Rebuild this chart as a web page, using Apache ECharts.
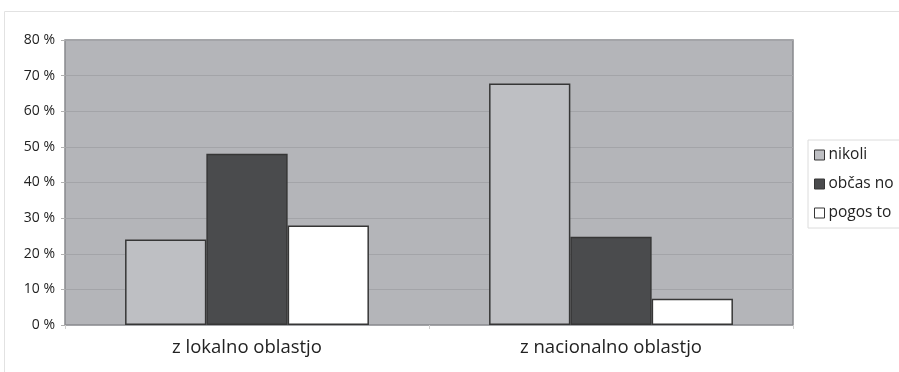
<!DOCTYPE html>
<html>
<head>
<meta charset="utf-8">
<script src="https://cdn.jsdelivr.net/npm/echarts@6/dist/echarts.min.js"></script>
<style>
  html, body {margin: 0; padding: 0; background: #fff;}
  #chart {width: 899px; height: 372px;}
</style>
</head>
<body>
<div id="chart"></div>
<script>
const categories = ['z lokalno oblastjo', 'z nacionalno oblastjo'];
const seriesNames = ['nikoli', 'občas no', 'pogos to'];
const nikoli = [24, 67.8];
const obcasno = [48.1, 24.8];
const pogosto = [27.9, 7.4];
const yTicks = [0, 10, 20, 30, 40, 50, 60, 70, 80];

const colors = ['#bebfc3', '#4a4b4d', '#ffffff'];
const font = '"Open Sans", "Noto Sans", sans-serif';

const myChart = echarts.init(document.getElementById('chart'));

const bar = (name, data, color) => ({
    name,
    type: 'bar',
    data,
    barGap: 0,
    barCategoryGap: '33%',
    itemStyle: {color, borderColor: '#363636', borderWidth: 1.5},
});

myChart.setOption({
    animation: false,
    textStyle: {fontFamily: font},
    graphic: [{
        type: 'rect',
        shape: {x: 4.5, y: 11.5, width: 910, height: 400},
        style: {fill: 'none', stroke: '#e2e2e2', lineWidth: 1},
        z: -10,
    }],
    grid: {
        left: 65, right: 106, top: 40, bottom: 47,
        show: true,
        backgroundColor: '#b4b5b9',
        borderColor: '#88898d',
        borderWidth: 1.5,
    },
    legend: {
        orient: 'vertical',
        left: 808,
        top: 140,
        itemGap: 13,
        itemWidth: 10,
        itemHeight: 10,
        padding: [7, 30, 7, 6],
        borderColor: '#dcdcdc',
        borderWidth: 1,
        borderRadius: 0,
        icon: 'rect',
        textStyle: {fontSize: 15.5, lineHeight: 16, color: '#222', fontFamily: font, padding: [0, 0, 0, -1]},
        itemStyle: {borderColor: '#363636', borderWidth: 1},
        data: seriesNames,
    },
    xAxis: {
        type: 'category',
        data: categories,
        axisLine: {show: false},
        axisTick: {show: true, length: 4, lineStyle: {color: '#cfcfcf'}},
        axisLabel: {fontSize: 18.5, color: '#222', margin: 13},
    },
    yAxis: {
        type: 'value',
        min: yTicks[0],
        max: yTicks[yTicks.length - 1],
        interval: 10,
        axisLine: {show: false},
        axisTick: {show: true, length: 4, lineStyle: {color: '#b0b0b0'}},
        splitLine: {lineStyle: {color: '#a3a4a8', width: 1}},
        axisLabel: {fontSize: 14, color: '#222', margin: 10, formatter: v => v + ' %'},
    },
    series: [
        bar(seriesNames[0], nikoli, colors[0]),
        bar(seriesNames[1], obcasno, colors[1]),
        bar(seriesNames[2], pogosto, colors[2]),
    ],
});
</script>
</body>
</html>
